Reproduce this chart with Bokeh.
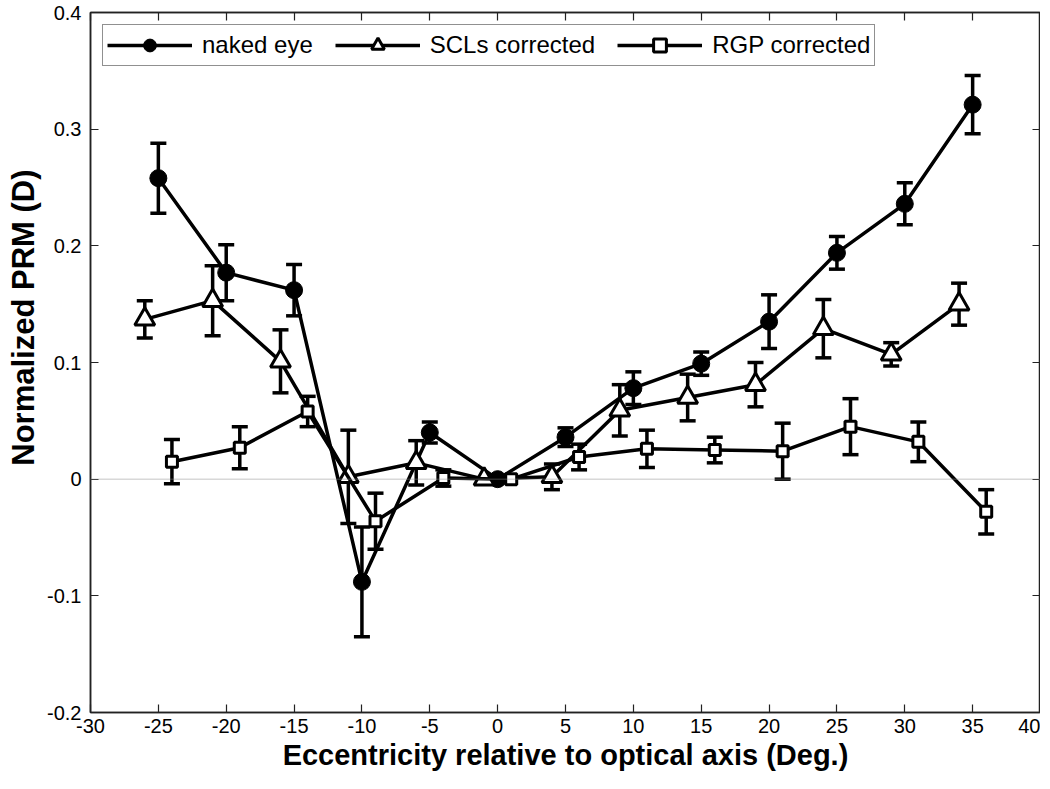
from bokeh.plotting import figure
from bokeh.models import (ColumnDataSource, Whisker, TeeHead, Span, Legend, LegendItem,
                          LinearAxis, FixedTicker, Range1d, Title)
from bokeh.embed import file_html
from bokeh.resources import INLINE

# ---- data ----
naked_x = [-25, -20, -15, -10, -5, 0, 5, 10, 15, 20, 25, 30, 35]
naked_y = [0.258, 0.177, 0.162, -0.088, 0.040, 0.0, 0.036, 0.078, 0.099, 0.135, 0.194, 0.236, 0.321]
naked_err = [0.030, 0.024, 0.022, 0.047, 0.009, 0.0, 0.008, 0.014, 0.010, 0.023, 0.014, 0.018, 0.025]

scl_x = [-26, -21, -16, -11, -6, -1, 4, 9, 14, 19, 24, 29, 34]
scl_y = [0.137, 0.153, 0.101, 0.002, 0.014, 0.0, 0.002, 0.059, 0.070, 0.081, 0.129, 0.107, 0.150]
scl_err = [0.016, 0.030, 0.027, 0.040, 0.019, 0.0, 0.011, 0.022, 0.020, 0.019, 0.025, 0.010, 0.018]

rgp_x = [-24, -19, -14, -9, -4, 1, 6, 11, 16, 21, 26, 31, 36]
rgp_y = [0.015, 0.027, 0.058, -0.036, 0.001, 0.0, 0.019, 0.026, 0.025, 0.024, 0.045, 0.032, -0.028]
rgp_err = [0.019, 0.018, 0.013, 0.024, 0.007, 0.0, 0.011, 0.016, 0.011, 0.024, 0.024, 0.017, 0.019]

x_ticks = [-30, -25, -20, -15, -10, -5, 0, 5, 10, 15, 20, 25, 30, 35, 40]
x_tick_labels = ["-30", "-25", "-20", "-15", "-10", "-5", "0", "5", "10", "15", "20", "25", "30", "35", "40"]
y_ticks = [-0.2, -0.1, 0, 0.1, 0.2, 0.3, 0.4]
y_tick_labels = ["-0.2", "-0.1", "0", "0.1", "0.2", "0.3", "0.4"]

FONT = "Liberation Sans"

p = figure(width=1040, height=773, output_backend="svg", toolbar_location=None,
           x_range=Range1d(-30, 40), y_range=Range1d(-0.2, 0.4),
           min_border_left=0, min_border_right=0, min_border_top=12, min_border_bottom=0,
           background_fill_color="white", border_fill_color="white")
p.grid.visible = False
p.outline_line_color = "#222222"
p.outline_line_width = 1.5

def style_axis(ax, ticks, tick_labels=None):
    ax.ticker = FixedTicker(ticks=ticks)
    ax.major_tick_in = 8
    ax.major_tick_out = 0
    ax.minor_tick_line_color = None
    ax.axis_line_color = "#222222"
    ax.axis_line_width = 1.5
    ax.major_tick_line_color = "#222222"
    ax.major_tick_line_width = 1.2
    ax.major_label_text_font = FONT
    ax.major_label_text_font_size = "20px"
    ax.major_label_text_color = "black"
    if tick_labels is not None:
        ax.major_label_overrides = {t: s for t, s in zip(ticks, tick_labels)}
    else:
        ax.major_label_text_font_size = "0px"
        ax.major_label_text_color = None
        ax.major_label_standoff = 0

style_axis(p.xaxis[0], x_ticks, x_tick_labels)
style_axis(p.yaxis[0], y_ticks, y_tick_labels)
p.xaxis[0].axis_label = "Eccentricity relative to optical axis (Deg.)"
p.xaxis[0].axis_label_text_font = FONT
p.xaxis[0].axis_label_text_font_style = "bold"
p.xaxis[0].axis_label_text_color = "black"
p.xaxis[0].axis_label_text_font_size = "29px"
p.xaxis[0].major_label_standoff = 6
p.xaxis[0].axis_label_standoff = 3
p.yaxis[0].major_label_standoff = 9

top_ax = LinearAxis()
style_axis(top_ax, x_ticks)
p.add_layout(top_ax, "above")
right_ax = LinearAxis()
style_axis(right_ax, y_ticks)
p.add_layout(right_ax, "right")

ytitle = Title(text="Normalized PRM (D)", align="right", offset=157, standoff=7,
               text_font=FONT, text_font_style="bold", text_font_size="31px",
               text_color="black")
p.add_layout(ytitle, "left")

# zero line
p.add_layout(Span(location=0, dimension="width", line_color="#8a8a8a",
                  line_width=1, line_dash="1 1"))

LW = 3.5
items = []

def add_series(xs, ys, errs, marker, size, fill, label):
    src = ColumnDataSource(dict(x=xs, y=ys))
    ln = p.line("x", "y", source=src, line_color="black", line_width=LW)
    ex = [x for x, e in zip(xs, errs) if e > 0]
    up = [y + e for y, e in zip(ys, errs) if e > 0]
    lo = [y - e for y, e in zip(ys, errs) if e > 0]
    esrc = ColumnDataSource(dict(x=ex, upper=up, lower=lo))
    w = Whisker(source=esrc, base="x", upper="upper", lower="lower", dimension="height",
                line_color="black", line_width=LW,
                upper_head=TeeHead(size=16, line_color="black", line_width=LW),
                lower_head=TeeHead(size=16, line_color="black", line_width=LW))
    p.add_layout(w)
    sc = p.scatter("x", "y", source=src, marker=marker, size=size, fill_color=fill,
                   line_color="black", line_width=3 if marker != "circle" else 1)
    items.append(LegendItem(label=label, renderers=[ln, sc]))

add_series(naked_x, naked_y, naked_err, "circle", 17, "black", "naked eye")
add_series(scl_x, scl_y, scl_err, "triangle", 20, "white", "SCLs corrected")
add_series(rgp_x, rgp_y, rgp_err, "square", 11, "white", "RGP corrected")

legend = Legend(items=items, location="top_left", orientation="horizontal",
                glyph_width=85, glyph_height=32, label_standoff=10, spacing=22,
                padding=4, margin=12,
                label_text_font=FONT, label_text_font_size="24px", label_text_color="black",
                border_line_color="#222222", border_line_width=1.5,
                background_fill_color="white", background_fill_alpha=1.0)
p.add_layout(legend)

open("out.html", "w").write(file_html(p, INLINE))
